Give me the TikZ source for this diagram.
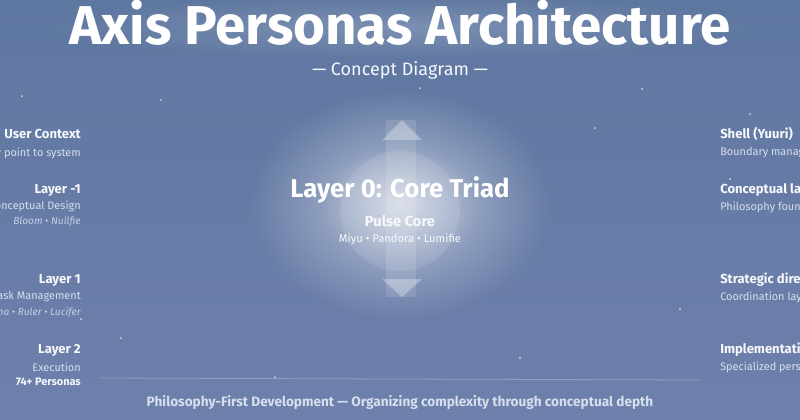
\documentclass[tikz,border=0pt]{standalone}
\usepackage{fontspec}
\setmainfont{Fira Sans}
\usetikzlibrary{positioning,fadings}

\definecolor{bgtop}{RGB}{94,119,160}
\definecolor{bgbot}{RGB}{110,128,172}
\definecolor{headc}{RGB}{246,248,252}
\definecolor{subc}{RGB}{214,223,238}
\definecolor{namec}{RGB}{196,208,230}

\tikzfading[name=glowfade, inner color=transparent!0, outer color=transparent!100]

\tikzset{
  head/.style={text=headc, font=\fontsize{9.8}{11}\selectfont\bfseries, inner sep=0pt},
  sub/.style={text=subc, font=\fontsize{8.2}{10}\selectfont, inner sep=0pt},
  names/.style={text=namec, font=\fontsize{7.6}{9}\selectfont\itshape, inner sep=0pt},
  star/.style={fill=white, opacity=0.7},
}

\begin{document}
\begin{tikzpicture}[x=0.75pt, y=-0.75pt]
  \useasboundingbox (0,0) rectangle (800,419);
  \clip (0,0) rectangle (800,419);
  % background
  \shade[top color=bgtop, bottom color=bgbot] (0,0) rectangle (800,419);
  \fill[white, opacity=0.55, path fading=glowfade] (400,205) ellipse (150 and 115);
  \fill[white, opacity=0.35, path fading=glowfade] (400,205) ellipse (80 and 60);
  \fill[white, opacity=0.10] (400,211) circle (60);
  \fill[white, opacity=0.12] (386,120) rectangle (416,297);
  \fill[white, opacity=0.3] (402,120) -- (422,140) -- (382,140) -- cycle;
  \fill[white, opacity=0.3] (382,279) -- (422,279) -- (402,297) -- cycle;
  \draw[white, opacity=0.25, line width=0.6pt] (100,378) -- (700,380);
  % stars
  \foreach \sx/\sy in {22/96, 161/100, 642/89, 750/114, 730/179, 81/319, 121/338, 680/309, 275/377, 420/88, 520/358, 595/128}
    \fill[star] (\sx,\sy) circle (1);
  % soft halo behind the title
  \fill[white, opacity=0.18, path fading=glowfade] (400,27) ellipse (360 and 32);

  % title
  \node (title) [text=white, inner sep=0pt, font=\fontsize{41}{43}\selectfont\bfseries] at (400,23) {Axis Personas Architecture};
  \node (subtitle) [text=headc, inner sep=0pt, font=\fontsize{13.5}{15}\selectfont] at (400,70) {— Concept Diagram —};

  % core
  \node (core) [text=white, font=\fontsize{19.3}{21}\selectfont\bfseries] at (400,190) {Layer 0: Core Triad};
  \node (pulse) [below=5pt of core, text=headc, font=\fontsize{11}{13}\selectfont\bfseries, inner sep=0pt] {Pulse Core};
  \node (triad) [below=5pt of pulse, text=headc, font=\fontsize{8.4}{10}\selectfont, inner sep=0pt] {Miyu • Pandora • Lumifie};

  % left side
  \node (user)   [head, anchor=east] at (81,134) {User Context};
  \node (userd)  [sub, anchor=east] at (81,153) {Entry point to system};
  \node (lm1)    [head, anchor=east] at (81,190) {Layer -1};
  \node (lm1d)   [sub, anchor=east] at (81,206) {Conceptual Design};
  \node (lm1n)   [names, anchor=east] at (81,222) {Bloom • Nullfie};
  \node (l1)     [head, anchor=east] at (81,280) {Layer 1};
  \node (l1d)    [sub, anchor=east] at (81,297) {Task Management};
  \node (l1n)    [names, anchor=east] at (81,313) {Luna • Ruler • Lucifer};
  \node (l2)     [head, anchor=east] at (81,350) {Layer 2};
  \node (l2d)    [sub, anchor=east] at (81,367) {Execution};
  \node (l2n)    [head, font=\fontsize{8.2}{10}\selectfont\bfseries, anchor=east] at (81,382) {74+ Personas};

  % right side
  \node (shell)  [head, anchor=west] at (720,134) {Shell (Yuuri)};
  \node (shelld) [sub, anchor=west] at (720,153) {Boundary management};
  \node (concl)  [head, anchor=west] at (720,190) {Conceptual layer};
  \node (concld) [sub, anchor=west] at (720,207) {Philosophy foundation};
  \node (strat)  [head, anchor=west] at (720,280) {Strategic direction};
  \node (stratd) [sub, anchor=west] at (720,297) {Coordination layer};
  \node (impl)   [head, anchor=west] at (720,350) {Implementation};
  \node (impld)  [sub, anchor=west] at (720,367) {Specialized personas};

  % footer
  \node (footer) [text=subc, font=\fontsize{10.2}{12}\selectfont\bfseries] at (400,402) {Philosophy-First Development — Organizing complexity through conceptual depth};
\end{tikzpicture}
\end{document}
